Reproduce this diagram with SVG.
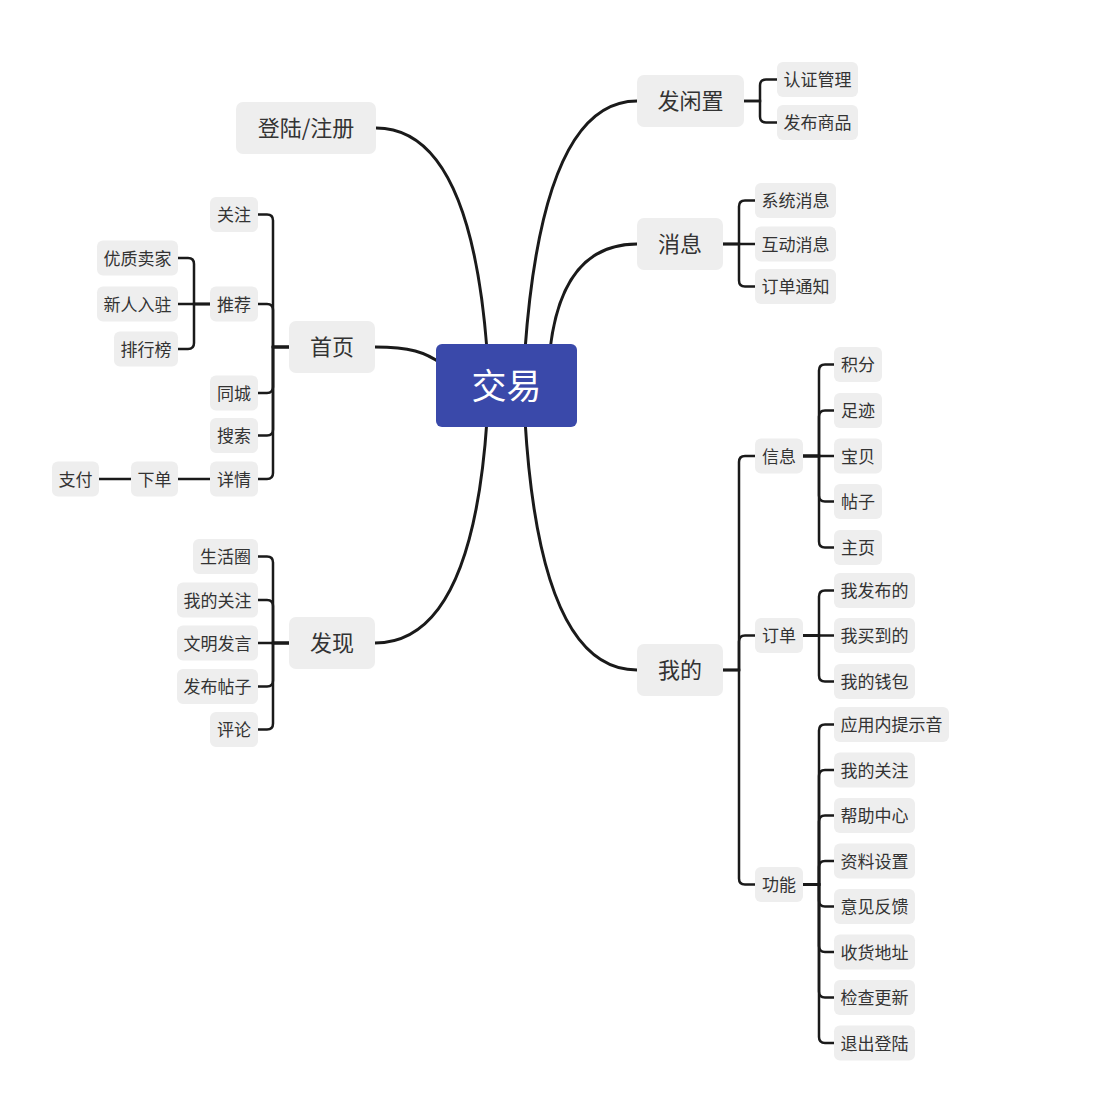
<svg xmlns="http://www.w3.org/2000/svg" width="1097" height="1093" viewBox="0 0 1097 1093">
<style>
.n rect{fill:#eeeeee}
.n text{font-family:"Noto Sans CJK SC","Noto Sans",sans-serif;fill:#333333;text-anchor:middle;dominant-baseline:central}
.s text{font-size:17px;transform:translateY(-1px)}
.m text{font-size:22px;transform:translateY(-2px)}
.r rect{fill:#3a49aa}
.r text{font-family:"Noto Sans CJK SC","Noto Sans",sans-serif;fill:#ffffff;text-anchor:middle;dominant-baseline:central;font-size:35px;transform:translateY(-2px)}
.c path{fill:none;stroke:#1a1a1a;stroke-width:2.5;stroke-linecap:round}
.c path.k{stroke-width:3}
</style>
<rect width="1097" height="1093" fill="#ffffff"/>
<g id="connectors" class="c">
<path class="k" d="M376,128 Q470,128 487,350"/>
<path class="k" d="M375,347 C410,347 425,352 442,364"/>
<path class="k" d="M375,643 Q472,643 487,420"/>
<path class="k" d="M637,101 Q543,101 525,350"/>
<path class="k" d="M637,244 Q562,244 550,350"/>
<path class="k" d="M637,670 Q540,670 525,420"/>
<path d="M289,347 H273 V220.5 Q273,214.5 267,214.5 H258"/>
<path d="M289,347 H273 V310 Q273,304 267,304 H258"/>
<path d="M289,347 H273 V387 Q273,393 267,393 H258"/>
<path d="M289,347 H273 V429.5 Q273,435.5 267,435.5 H258"/>
<path d="M289,347 H273 V473 Q273,479 267,479 H258"/>
<path d="M210,304 H194 V264 Q194,258 188,258 H178"/>
<path d="M210,304 H178"/>
<path d="M210,304 H194 V343 Q194,349 188,349 H178"/>
<path d="M210,479 H178"/>
<path d="M131,479 H99"/>
<path d="M289,643 H273 V562.5 Q273,556.5 267,556.5 H258"/>
<path d="M289,643 H273 V606 Q273,600 267,600 H258"/>
<path d="M289,643 H258"/>
<path d="M289,643 H273 V680.5 Q273,686.5 267,686.5 H258"/>
<path d="M289,643 H273 V723.5 Q273,729.5 267,729.5 H258"/>
<path d="M744,101 H760 V85.5 Q760,79.5 766,79.5 H777"/>
<path d="M744,101 H760 V116.5 Q760,122.5 766,122.5 H777"/>
<path d="M723,244 H739 V206.5 Q739,200.5 745,200.5 H755"/>
<path d="M723,244 H755"/>
<path d="M723,244 H739 V280.5 Q739,286.5 745,286.5 H755"/>
<path d="M723,670 H739 V462 Q739,456 745,456 H755"/>
<path d="M723,670 H739 V641.5 Q739,635.5 745,635.5 H755"/>
<path d="M723,670 H739 V878.5 Q739,884.5 745,884.5 H755"/>
<path d="M803,456 H819 V370.5 Q819,364.5 825,364.5 H834"/>
<path d="M803,456 H819 V416.5 Q819,410.5 825,410.5 H834"/>
<path d="M803,456 H834"/>
<path d="M803,456 H819 V495.5 Q819,501.5 825,501.5 H834"/>
<path d="M803,456 H819 V541.5 Q819,547.5 825,547.5 H834"/>
<path d="M803,635.5 H819 V596.5 Q819,590.5 825,590.5 H834"/>
<path d="M803,635.5 H834"/>
<path d="M803,635.5 H819 V675.5 Q819,681.5 825,681.5 H834"/>
<path d="M803,884.5 H819 V730.5 Q819,724.5 825,724.5 H834"/>
<path d="M803,884.5 H819 V776 Q819,770 825,770 H834"/>
<path d="M803,884.5 H819 V821.5 Q819,815.5 825,815.5 H834"/>
<path d="M803,884.5 H819 V867 Q819,861 825,861 H834"/>
<path d="M803,884.5 H819 V900.5 Q819,906.5 825,906.5 H834"/>
<path d="M803,884.5 H819 V946 Q819,952 825,952 H834"/>
<path d="M803,884.5 H819 V991.5 Q819,997.5 825,997.5 H834"/>
<path d="M803,884.5 H819 V1037 Q819,1043 825,1043 H834"/>
</g>
<g id="root" class="r"><rect x="436" y="344" width="141" height="83" rx="6"/><text x="506.5" y="385.5">交易</text></g>
<g id="n-login" class="n m"><rect x="236" y="102" width="140" height="52" rx="7"/><text x="306" y="128">登陆/注册</text></g>
<g id="n-home" class="n m"><rect x="289" y="321" width="86" height="52" rx="7"/><text x="332" y="347">首页</text></g>
<g id="n-discover" class="n m"><rect x="289" y="617" width="86" height="52" rx="7"/><text x="332" y="643">发现</text></g>
<g id="n-idle" class="n m"><rect x="637" y="75" width="107" height="52" rx="7"/><text x="690.5" y="101">发闲置</text></g>
<g id="n-msg" class="n m"><rect x="637" y="218" width="86" height="52" rx="7"/><text x="680" y="244">消息</text></g>
<g id="n-mine" class="n m"><rect x="637" y="644" width="86" height="52" rx="7"/><text x="680" y="670">我的</text></g>
<g id="n-follow" class="n s"><rect x="210" y="197" width="48" height="35" rx="6"/><text x="234" y="214.5">关注</text></g>
<g id="n-recommend" class="n s"><rect x="210" y="286.5" width="48" height="35" rx="6"/><text x="234" y="304">推荐</text></g>
<g id="n-quality" class="n s"><rect x="97" y="240.5" width="81" height="35" rx="6"/><text x="137.5" y="258">优质卖家</text></g>
<g id="n-newbie" class="n s"><rect x="97" y="286.5" width="81" height="35" rx="6"/><text x="137.5" y="304">新人入驻</text></g>
<g id="n-rank" class="n s"><rect x="114" y="331.5" width="64" height="35" rx="6"/><text x="146" y="349">排行榜</text></g>
<g id="n-city" class="n s"><rect x="210" y="375.5" width="48" height="35" rx="6"/><text x="234" y="393">同城</text></g>
<g id="n-search" class="n s"><rect x="210" y="418" width="48" height="35" rx="6"/><text x="234" y="435.5">搜索</text></g>
<g id="n-detail" class="n s"><rect x="210" y="461.5" width="48" height="35" rx="6"/><text x="234" y="479">详情</text></g>
<g id="n-order" class="n s"><rect x="131" y="461.5" width="47" height="35" rx="6"/><text x="154.5" y="479">下单</text></g>
<g id="n-pay" class="n s"><rect x="52" y="461.5" width="47" height="35" rx="6"/><text x="75.5" y="479">支付</text></g>
<g id="n-life" class="n s"><rect x="193" y="539" width="65" height="35" rx="6"/><text x="225.5" y="556.5">生活圈</text></g>
<g id="n-myfollow" class="n s"><rect x="177" y="582.5" width="81" height="35" rx="6"/><text x="217.5" y="600">我的关注</text></g>
<g id="n-civil" class="n s"><rect x="177" y="625.5" width="81" height="35" rx="6"/><text x="217.5" y="643">文明发言</text></g>
<g id="n-post" class="n s"><rect x="177" y="669" width="81" height="35" rx="6"/><text x="217.5" y="686.5">发布帖子</text></g>
<g id="n-comment" class="n s"><rect x="210" y="712" width="48" height="35" rx="6"/><text x="234" y="729.5">评论</text></g>
<g id="n-cert" class="n s"><rect x="777" y="62" width="81" height="35" rx="6"/><text x="817.5" y="79.5">认证管理</text></g>
<g id="n-publish" class="n s"><rect x="777" y="105" width="81" height="35" rx="6"/><text x="817.5" y="122.5">发布商品</text></g>
<g id="n-sys" class="n s"><rect x="755" y="183" width="81" height="35" rx="6"/><text x="795.5" y="200.5">系统消息</text></g>
<g id="n-interact" class="n s"><rect x="755" y="226.5" width="81" height="35" rx="6"/><text x="795.5" y="244">互动消息</text></g>
<g id="n-notice" class="n s"><rect x="755" y="269" width="81" height="35" rx="6"/><text x="795.5" y="286.5">订单通知</text></g>
<g id="n-info" class="n s"><rect x="755" y="438.5" width="48" height="35" rx="6"/><text x="779" y="456">信息</text></g>
<g id="n-orders" class="n s"><rect x="755" y="618" width="48" height="35" rx="6"/><text x="779" y="635.5">订单</text></g>
<g id="n-func" class="n s"><rect x="755" y="867" width="48" height="35" rx="6"/><text x="779" y="884.5">功能</text></g>
<g id="n-points" class="n s"><rect x="834" y="347" width="48" height="35" rx="6"/><text x="858" y="364.5">积分</text></g>
<g id="n-trace" class="n s"><rect x="834" y="393" width="48" height="35" rx="6"/><text x="858" y="410.5">足迹</text></g>
<g id="n-baby" class="n s"><rect x="834" y="438.5" width="48" height="35" rx="6"/><text x="858" y="456">宝贝</text></g>
<g id="n-posts" class="n s"><rect x="834" y="484" width="48" height="35" rx="6"/><text x="858" y="501.5">帖子</text></g>
<g id="n-homepage" class="n s"><rect x="834" y="530" width="48" height="35" rx="6"/><text x="858" y="547.5">主页</text></g>
<g id="n-mypub" class="n s"><rect x="834" y="573" width="81" height="35" rx="6"/><text x="874.5" y="590.5">我发布的</text></g>
<g id="n-mybuy" class="n s"><rect x="834" y="618" width="81" height="35" rx="6"/><text x="874.5" y="635.5">我买到的</text></g>
<g id="n-wallet" class="n s"><rect x="834" y="664" width="81" height="35" rx="6"/><text x="874.5" y="681.5">我的钱包</text></g>
<g id="n-sound" class="n s"><rect x="834" y="707" width="115" height="35" rx="6"/><text x="891.5" y="724.5">应用内提示音</text></g>
<g id="n-myfollow2" class="n s"><rect x="834" y="752.5" width="81" height="35" rx="6"/><text x="874.5" y="770">我的关注</text></g>
<g id="n-help" class="n s"><rect x="834" y="798" width="81" height="35" rx="6"/><text x="874.5" y="815.5">帮助中心</text></g>
<g id="n-profile" class="n s"><rect x="834" y="843.5" width="81" height="35" rx="6"/><text x="874.5" y="861">资料设置</text></g>
<g id="n-feedback" class="n s"><rect x="834" y="889" width="81" height="35" rx="6"/><text x="874.5" y="906.5">意见反馈</text></g>
<g id="n-address" class="n s"><rect x="834" y="934.5" width="81" height="35" rx="6"/><text x="874.5" y="952">收货地址</text></g>
<g id="n-update" class="n s"><rect x="834" y="980" width="81" height="35" rx="6"/><text x="874.5" y="997.5">检查更新</text></g>
<g id="n-logout" class="n s"><rect x="834" y="1025.5" width="81" height="35" rx="6"/><text x="874.5" y="1043">退出登陆</text></g>
</svg>
